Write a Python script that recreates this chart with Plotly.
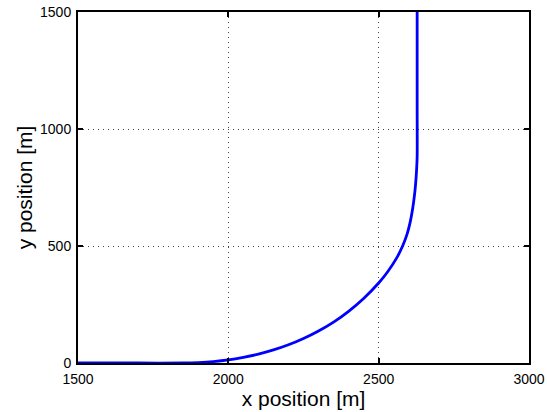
import plotly.graph_objects as go

# Trajectory
x_pos = [1500, 1700, 1850, 1900, 1950, 2000, 2050, 2100, 2150, 2200, 2250, 2300,
         2350, 2400, 2450, 2500, 2530, 2560, 2580, 2595, 2605, 2613, 2619, 2623,
         2626, 2628, 2628, 2628]
y_pos = [0, 0, 0, 2, 6, 13, 24, 38, 56, 78, 105, 137,
         175, 221, 276, 342, 390, 449, 501, 553, 603, 659, 716, 768,
         822, 882, 1100, 1500]

x_ticks = [1500, 2000, 2500, 3000]
y_ticks = [0, 500, 1000, 1500]

FONT = "Liberation Sans, Arial, sans-serif"

fig = go.Figure()
fig.add_trace(go.Scatter(x=x_pos, y=y_pos, mode="lines",
                         line=dict(color="#0000ff", width=2.8, shape="spline", smoothing=0.8),
                         showlegend=False, hoverinfo="skip"))

axis_common = dict(
    showline=True, linecolor="black", linewidth=2, mirror="ticks",
    ticks="inside", ticklen=5, tickwidth=1.5, tickcolor="black",
    showgrid=True, gridcolor="#444444", gridwidth=1, griddash="1px,4px",
    zeroline=False,
    tickfont=dict(family=FONT, size=14, color="black"),
)

fig.update_xaxes(range=[1500, 3000], tickvals=x_ticks, ticktext=[str(v) for v in x_ticks],
                 title=dict(text="x position [m]", font=dict(family=FONT, size=21, color="black"), standoff=4),
                 ticklabelstandoff=2, **axis_common)
fig.update_yaxes(range=[0, 1500], tickvals=y_ticks, ticktext=[str(v) for v in y_ticks],
                 title=dict(text="y position [m]", font=dict(family=FONT, size=21, color="black"), standoff=2),
                 ticklabelstandoff=2, **axis_common)

fig.update_layout(
    width=547, height=412,
    margin=dict(l=78, r=18, t=12, b=49, autoexpand=False),
    paper_bgcolor="white", plot_bgcolor="white",
)

fig.write_html("out.html", config={"displayModeBar": False},
               post_script="document.body.style.margin='0';document.body.style.overflow='hidden';")
